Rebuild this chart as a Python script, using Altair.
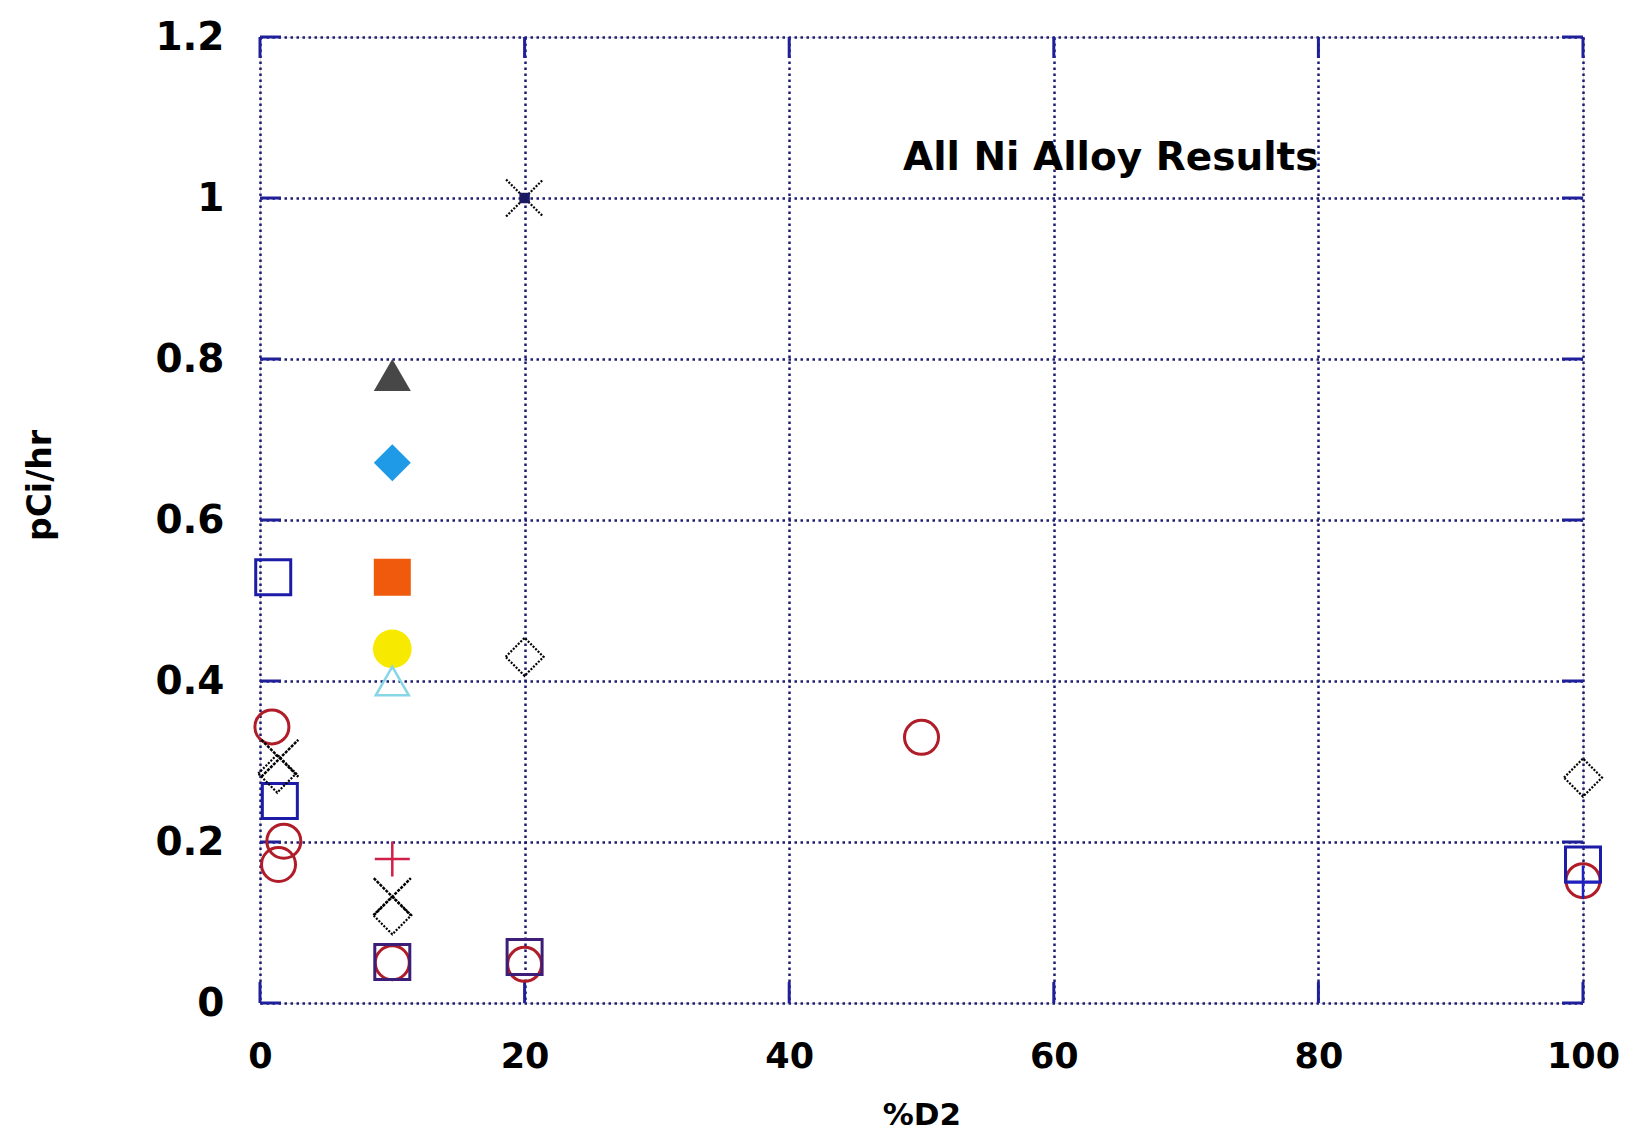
import altair as alt
import pandas as pd

# ---- tick values ----
x_ticks = [0, 20, 40, 60, 80, 100]
y_ticks = [0, 0.2, 0.4, 0.6, 0.8, 1.0, 1.2]

# ---- series values ----
red_circle_x = [0.9, 1.8, 1.4, 50, 100, 10, 20]
red_circle_y = [0.343, 0.201, 0.172, 0.330, 0.152, 0.050, 0.048]

blue_square_x = [1.0, 1.5, 100]
blue_square_y = [0.529, 0.251, 0.172]

purple_square_x = [10, 20]
purple_square_y = [0.051, 0.057]

open_diamond_x = [1.3, 10, 20, 100]
open_diamond_y = [0.285, 0.109, 0.430, 0.280]

x_mark_x = [1.5, 10]
x_mark_y = [0.304, 0.132]

star_x = [20]
star_y = [1.0]

gray_triangle_x = [10]
gray_triangle_y = [0.780]

blue_diamond_x = [10]
blue_diamond_y = [0.671]

orange_square_x = [10]
orange_square_y = [0.529]

yellow_circle_x = [10]
yellow_circle_y = [0.440]

cyan_triangle_x = [10]
cyan_triangle_y = [0.400]

red_plus_x = [10]
red_plus_y = [0.179]

blue_plus_x = [100]
blue_plus_y = [0.150]

label_x = [64.3]
label_y = [1.05]
label_text = ["All Ni Alloy Results"]

NAVY = "#1f1f99"
GRID = "#1c1c72"
FONT = "DejaVu Sans"

W, H = 1323, 966

x_axis = alt.Axis(
    values=x_ticks, title="%D2", titleFont=FONT, titleFontSize=31,
    titleFontWeight="bold", titleColor="black", titleY=97, titleBaseline="top",
    labelFont=FONT, labelFontSize=35, labelFontWeight="bold", labelColor="black",
    labelPadding=36, labelFlush=False, labelOverlap=False,
    ticks=False, domain=False, grid=True, gridColor=GRID, gridDash=[2.5, 3.5],
    gridWidth=2.5, gridOpacity=1,
)
y_axis = alt.Axis(
    values=y_ticks, format="~g", title="pCi/hr", titleFont=FONT, titleFontSize=33,
    titleFontWeight="bold", titleColor="black", titleAngle=270,
    titleX=-220, titleY=448, titleBaseline="middle", titleAlign="center",
    labelFont=FONT, labelFontSize=39, labelFontWeight="bold", labelColor="black",
    labelPadding=36, labelOverlap=False, labelFlush=False,
    ticks=False, domain=False, grid=True, gridColor=GRID, gridDash=[2.5, 3.5],
    gridWidth=2.5, gridOpacity=1,
)

XS = alt.Scale(domain=[0, 100], nice=False, zero=False)
YS = alt.Scale(domain=[0, 1.2], nice=False, zero=False)
X = alt.X("x:Q", scale=XS, axis=x_axis)
Y = alt.Y("y:Q", scale=YS, axis=y_axis)


def pts(xs, ys, **mark):
    df = pd.DataFrame({"x": xs, "y": ys})
    return alt.Chart(df).mark_point(opacity=1, **mark).encode(x=X, y=Y)


XPATH = "M-1,-1L1,1M-1,1L1,-1"
PLUS = "M-1,0L1,0M0,-1L0,1"

layers = []

# inward tick stubs
ydf = pd.DataFrame({"y": y_ticks})
xdf = pd.DataFrame({"x": x_ticks})
layers.append(alt.Chart(ydf).mark_rule(color=NAVY, strokeWidth=3).encode(
    y=Y, x=alt.value(0), x2=alt.value(21)))
layers.append(alt.Chart(ydf).mark_rule(color=NAVY, strokeWidth=3).encode(
    y=Y, x=alt.value(W - 21), x2=alt.value(W)))
layers.append(alt.Chart(xdf).mark_rule(color=NAVY, strokeWidth=3).encode(
    x=X, y=alt.value(H - 21), y2=alt.value(H)))
layers.append(alt.Chart(xdf).mark_rule(color=NAVY, strokeWidth=3).encode(
    x=X, y=alt.value(0), y2=alt.value(21)))

# filled markers
layers.append(pts(gray_triangle_x, gray_triangle_y, shape="triangle-up", filled=True,
                  color="#474747", size=1369))
layers.append(pts(blue_diamond_x, blue_diamond_y, shape="diamond", filled=True,
                  color="#1e9ae6", size=1369))
layers.append(pts(orange_square_x, orange_square_y, shape="square", filled=True,
                  color="#f05a0c", size=1369))
layers.append(pts(yellow_circle_x, yellow_circle_y, shape="circle", filled=True,
                  color="#f7ea00", size=1500))

# open markers
layers.append(pts(cyan_triangle_x, cyan_triangle_y, shape="triangle-up", filled=False,
                  stroke="#86d6e6", strokeWidth=2.5, size=1089))
layers.append(pts(red_circle_x, red_circle_y, shape="circle", filled=False,
                  stroke="#b01c28", strokeWidth=3, size=1156))
layers.append(pts(blue_square_x, blue_square_y, shape="square", filled=False,
                  stroke="#1c1ca8", strokeWidth=3, size=1225))
layers.append(pts(purple_square_x, purple_square_y, shape="square", filled=False,
                  stroke="#3c1e78", strokeWidth=3, size=1225))
layers.append(pts(open_diamond_x, open_diamond_y, shape="diamond", filled=False,
                  stroke="black", strokeWidth=2.2, strokeDash=[2, 1.5], size=1444))
layers.append(pts(x_mark_x, x_mark_y, shape=XPATH, filled=False,
                  stroke="black", strokeWidth=2.5, strokeDash=[3, 1.2], size=1369))
layers.append(pts(star_x, star_y, shape=XPATH, filled=False,
                  stroke="black", strokeWidth=2.2, strokeDash=[2, 1.5], size=1369))
layers.append(pts(star_x, star_y, shape="square", filled=True,
                  color="#1a1a60", size=110))
layers.append(pts(red_plus_x, red_plus_y, shape=PLUS, filled=False,
                  stroke="#d0204a", strokeWidth=2.5, size=1225))
layers.append(pts(blue_plus_x, blue_plus_y, shape=PLUS, filled=False,
                  stroke="#2020c0", strokeWidth=2.5, size=1089))

# in-plot label
ldf = pd.DataFrame({"x": label_x, "y": label_y, "t": label_text})
layers.append(alt.Chart(ldf).mark_text(
    font=FONT, fontSize=39, fontWeight="bold", color="black", baseline="middle",
    align="center").encode(x=X, y=Y, text="t:N"))

chart = alt.layer(*layers).properties(
    width=W, height=H,
    autosize=alt.AutoSizeParams(type="none"),
    padding={"left": 252, "top": 29, "right": 37, "bottom": 130},
).configure_view(stroke=NAVY, strokeWidth=3).configure(background="white")

chart.save("out.html", embed_options={"renderer": "svg", "actions": False})
